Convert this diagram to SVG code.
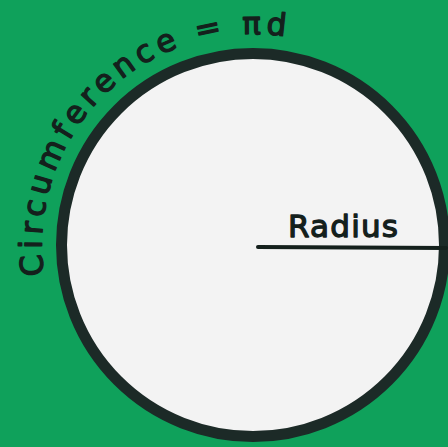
<svg xmlns="http://www.w3.org/2000/svg" width="448" height="447" viewBox="0 0 448 447">
  <defs>
    <style>
      .hand { font-family: "DejaVu Sans", "Liberation Sans", sans-serif; fill: #14201c; stroke: #14201c; stroke-width: 1.3; stroke-linejoin: round; }
    </style>
    <path id="circArc" d="M 44 275 A 211 211 0 0 1 297 38.6"/>
  </defs>
  <rect x="0" y="0" width="448" height="447" fill="#0fa15b"/>
  <g id="circle">
    <circle cx="253" cy="245" r="191.5" fill="#f3f3f3" stroke="#1c2a27" stroke-width="11"/>
  </g>
  <g id="connectors">
    <line x1="258" y1="247" x2="446" y2="248" stroke="#14201c" stroke-width="4" stroke-linecap="round"/>
  </g>
  <g id="radius-label">
    <text class="hand" x="288" y="237" font-size="31" textLength="110" lengthAdjust="spacing">Radius</text>
  </g>
  <g id="circumference-label">
    <text class="hand" font-size="31"><textPath href="#circArc" textLength="394" lengthAdjust="spacing">Circumference = πd</textPath></text>
  </g>
</svg>
